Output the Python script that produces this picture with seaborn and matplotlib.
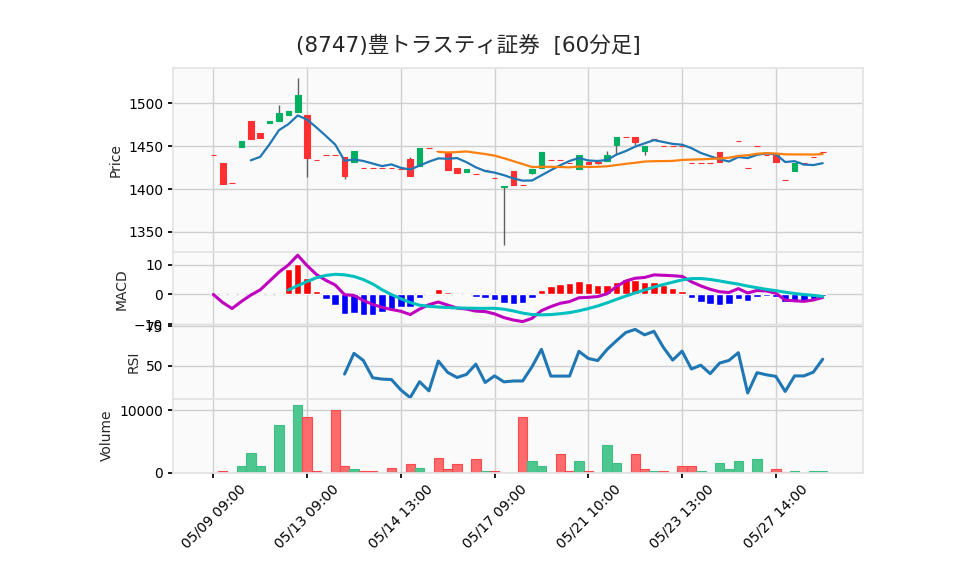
import numpy as np
import pandas as pd
import matplotlib
matplotlib.use('Agg')
import matplotlib.pyplot as plt
import seaborn as sns

# 60 minute bars (index 0 .. 65)
opens = [1440, 1430, 1407, 1449, 1480, 1466, 1477, 1479, 1487, 1490,
         1486, 1434, 1440, 1440, 1437, 1432, 1425, 1425, 1425, 1425,
         1424, 1435, 1427, 1448, 1444, 1443, 1425, 1420, 1418, 1422,
         1413, 1402, 1421, 1405, 1419, 1425, 1434, 1434, 1430, 1423,
         1432, 1432, 1433, 1451, 1461, 1461, 1445, 1459, 1450, 1450,
         1450, 1430, 1431, 1431, 1443, 1437, 1456, 1425, 1450, 1440,
         1440, 1411, 1421, 1430, 1437, 1443]
highs = [1440, 1430, 1407, 1456, 1480, 1466, 1480, 1498, 1491, 1530,
         1486, 1434, 1440, 1440, 1437, 1444, 1425, 1425, 1425, 1425,
         1424, 1437, 1448, 1448, 1444, 1443, 1425, 1424, 1418, 1422,
         1413, 1404, 1421, 1405, 1423, 1443, 1434, 1434, 1430, 1440,
         1432, 1432, 1444, 1461, 1461, 1461, 1450, 1459, 1450, 1450,
         1450, 1430, 1431, 1431, 1443, 1437, 1456, 1425, 1450, 1440,
         1440, 1411, 1430, 1430, 1437, 1443]
lows = [1440, 1406, 1407, 1449, 1459, 1460, 1477, 1479, 1487, 1490,
        1414, 1434, 1440, 1440, 1412, 1432, 1425, 1425, 1425, 1425,
        1424, 1415, 1427, 1448, 1444, 1422, 1419, 1420, 1418, 1422,
        1413, 1335, 1405, 1405, 1417, 1425, 1434, 1434, 1430, 1423,
        1429, 1429, 1433, 1441, 1461, 1452, 1440, 1459, 1450, 1450,
        1450, 1430, 1431, 1431, 1432, 1437, 1456, 1425, 1450, 1440,
        1432, 1411, 1421, 1430, 1437, 1443]
closes = [1440, 1406, 1407, 1456, 1459, 1460, 1480, 1489, 1491, 1510,
          1436, 1434, 1440, 1440, 1415, 1444, 1425, 1425, 1425, 1425,
          1424, 1415, 1448, 1448, 1444, 1422, 1419, 1424, 1418, 1422,
          1413, 1404, 1405, 1405, 1423, 1443, 1434, 1434, 1430, 1440,
          1429, 1431, 1440, 1461, 1461, 1455, 1450, 1459, 1450, 1450,
          1450, 1430, 1431, 1431, 1432, 1437, 1456, 1425, 1450, 1440,
          1432, 1411, 1430, 1430, 1437, 1443]
volumes = [0, 300, 0, 1100, 3100, 1100, 0, 7600, 0, 10900,
           8900, 200, 0, 10100, 1100, 600, 300, 300, 0, 800,
           100, 1400, 800, 0, 2300, 500, 1300, 0, 2100, 300,
           300, 0, 0, 8900, 1800, 1000, 0, 2900, 200, 1800,
           300, 0, 4400, 1600, 0, 2900, 500, 300, 300, 0,
           1100, 1000, 300, 0, 1600, 600, 1800, 0, 2100, 100,
           600, 100, 300, 0, 300, 200]
tick_labels = ['05/09 09:00', '05/13 09:00', '05/14 13:00', '05/17 09:00',
               '05/21 10:00', '05/23 13:00', '05/27 14:00']

df = pd.DataFrame({'open': opens, 'high': highs, 'low': lows,
                   'close': closes, 'volume': volumes})
df['i'] = np.arange(len(df))

# indicators from the closes
df['ma5'] = df['close'].rolling(5).mean()
df['ma25'] = df['close'].rolling(25).mean()
ema12 = df['close'].ewm(span=12, adjust=False).mean()
ema26 = df['close'].ewm(span=26, adjust=False).mean()
df['macd'] = ema12 - ema26
df['signal'] = df['macd'].rolling(9).mean()
df['hist'] = df['macd'] - df['signal']
diff = df['close'].diff()
gain = diff.clip(lower=0).rolling(14).mean()
loss = (-diff.clip(upper=0)).rolling(14).mean()
df['rsi'] = 100 * gain / (gain + loss)

UP, DOWN = '#00b060', '#fe3032'

sns.set_theme(style='whitegrid', rc={
    'axes.facecolor': '#fafafa',
    'axes.edgecolor': '#e3e3e3',
    'grid.color': '#d0d0d0',
    'grid.linewidth': 1.0,
    'xtick.bottom': True,
    'ytick.left': True,
    'xtick.color': 'black',
    'ytick.color': 'black',
})
plt.rcParams['font.family'] = ['DejaVu Sans', 'Noto Sans CJK JP']
plt.rcParams['axes.unicode_minus'] = True

W, H = 958, 575
fig = plt.figure(figsize=(W / 100, H / 100), dpi=100)
left, right = 173 / W, 863 / W
bounds = [68, 251.9, 325.4, 398.9, 472.5]
axes = []
for k in range(4):
    top, bot = bounds[k], bounds[k + 1]
    ax = fig.add_axes([left, 1 - bot / H, right - left, (bot - top) / H])
    axes.append(ax)
ax_p, ax_m, ax_r, ax_v = axes

# candles
up = df['close'] > df['open']
ccol = np.where(up, UP, DOWN)
ax_p.vlines(df['i'], df['low'], df['high'], color='#606060', lw=1, zorder=2)
ax_p.bar(df['i'], (df['close'] - df['open']).abs(),
         bottom=df[['open', 'close']].min(axis=1), width=0.6,
         color=ccol, edgecolor=ccol, linewidth=0.8, zorder=3)
sns.lineplot(data=df, x='i', y='ma5', ax=ax_p, color='#1f77b4', lw=1.6, zorder=4)
sns.lineplot(data=df, x='i', y='ma25', ax=ax_p, color='#ff7f0e', lw=1.6, zorder=4)
ax_p.set_ylim(1326.5, 1541.5)
ax_p.set_yticks([1350, 1400, 1450, 1500])
ax_p.set_ylabel('Price')

# MACD
hcol = np.where(df['hist'] >= 0, 'red', 'blue')
ax_m.bar(df['i'], df['hist'].fillna(0), width=0.8, color=hcol, zorder=2)
sns.lineplot(data=df, x='i', y='macd', ax=ax_m, color='#bf00bf', lw=2.2, zorder=3)
sns.lineplot(data=df, x='i', y='signal', ax=ax_m, color='#00bfbf', lw=2.2, zorder=3)
ax_m.set_ylim(-10.4, 14.3)
ax_m.set_yticks([-10, 0, 10])
ax_m.set_ylabel('MACD')

# RSI
sns.lineplot(data=df, x='i', y='rsi', ax=ax_r, color='#1f77b4', lw=2.2)
ax_r.set_ylim(29.3, 75.5)
ax_r.set_yticks([50, 75])
ax_r.set_ylabel('RSI')

# volume (colour by change of close)
vup = df['close'].diff() > 0
vface = np.where(vup, '#4dc790', '#fd6b6c')
vedge = np.where(vup, '#3fbf86', '#fe4a4c')
ax_v.bar(df['i'], df['volume'], width=1.0, color=vface, edgecolor=vedge,
         linewidth=0.8, zorder=2)
ax_v.set_ylim(0, 11800)
ax_v.set_yticks([0, 10000])
ax_v.set_ylabel('Volume')

ticks = list(range(0, len(df), 10))
for ax in axes:
    ax.set_xlim(-4.3, 69.3)
    ax.set_xticks(ticks)
    ax.set_xlabel('')
    ax.grid(True)
    ax.tick_params(axis='y', length=3.5, labelsize=10)
    if ax is not ax_v:
        ax.tick_params(axis='x', bottom=False, labelbottom=False)
    ax.yaxis.label.set_size(10)
ax_v.set_xticklabels(tick_labels, rotation=45, ha='center')
ax_v.tick_params(axis='x', length=3.5, labelsize=10)

fig.text(468 / W, 1 - 45 / H, '(8747)豊トラスティ証券  [60分足]',
         ha='center', va='center', fontsize=15.5)

fig.savefig('out.png', dpi=100)
